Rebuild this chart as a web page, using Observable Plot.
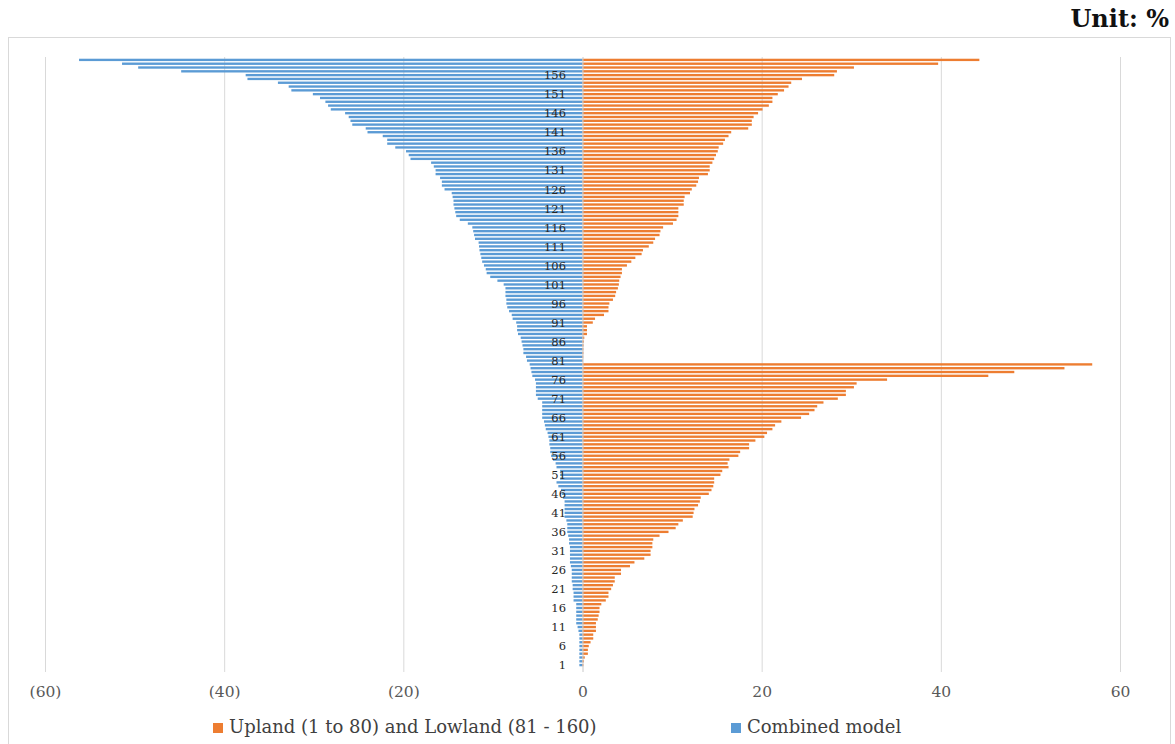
<!DOCTYPE html>
<html>
<head>
<meta charset="utf-8">
<script src="https://cdn.jsdelivr.net/npm/d3@7"></script>
<script src="https://cdn.jsdelivr.net/npm/@observablehq/plot@0.6"></script>
<style>
  html, body { margin: 0; padding: 0; background: #fff; }
  body { position: relative; width: 1175px; height: 744px; overflow: hidden; font-family: "DejaVu Serif", serif; }
  #frame { position: absolute; left: 8px; top: 37px; width: 1163px; height: 720px; border: 1px solid #d9d9d9; box-sizing: border-box; }
  #unit { position: absolute; right: 6px; top: 4px; font-weight: bold; font-size: 24px; color: #111; }
  #chart { position: absolute; left: 0; top: 0; }
  #legend { position: absolute; top: 716px; left: 0; width: 1175px; height: 26px; font-size: 18px; color: #404040; }
  .item { position: absolute; top: 0; white-space: nowrap; }
  .sw { display: inline-block; width: 10px; height: 10px; margin-right: 6px; vertical-align: 0px; }
</style>
</head>
<body>
<div id="frame"></div>
<div id="unit">Unit: %</div>
<div id="chart"></div>
<div id="legend">
  <div class="item" style="left:213px"><span class="sw" style="background:#ED7D31"></span>Upland (1 to 80) and Lowland (81 - 160)</div>
  <div class="item" style="left:731px"><span class="sw" style="background:#5B9BD5"></span>Combined model</div>
</div>
<script>
// Category ids (bottom to top): 1..160
const categories = d3.range(1, 161);

// Upland (1 to 80) and Lowland (81 - 160), unit %
const separateModel = [
  0.1, 0.15, 0.25, 0.6, 0.6, 0.7, 0.9, 1.2, 1.2, 1.5,
  1.5, 1.5, 1.7, 1.8, 1.9, 1.9, 2.1, 2.6, 2.9, 2.9,
  3.2, 3.4, 3.6, 3.6, 4.3, 4.3, 5.3, 5.8, 6.9, 7.6,
  7.6, 7.8, 7.8, 7.9, 8.6, 9.6, 10.4, 10.7, 11.2, 12.3,
  12.4, 12.5, 12.9, 13.1, 13.2, 14.1, 14.4, 14.6, 14.7, 14.7,
  15.4, 15.6, 16.3, 16.2, 16.4, 17.4, 17.6, 18.6, 18.6, 19.3,
  20.3, 20.6, 21.2, 21.5, 22.2, 24.4, 25.3, 25.9, 26.2, 26.9,
  28.5, 29.4, 29.4, 30.3, 30.6, 34.0, 45.3, 48.2, 53.8, 56.9,
  0.05, 0.08, 0.1, 0.1, 0.12, 0.15, 0.2, 0.5, 0.5, 0.5,
  1.15, 1.4, 2.4, 2.9, 2.9, 3.0, 3.4, 3.65, 3.75, 3.95,
  4.06, 4.1, 4.25, 4.4, 4.4, 4.96, 5.45, 5.9, 6.6, 6.75,
  7.4, 7.9, 8.1, 8.6, 8.7, 9.0, 10.1, 10.5, 10.7, 10.7,
  10.7, 11.3, 11.3, 11.4, 12.0, 12.2, 12.7, 12.9, 13.0, 14.0,
  14.2, 14.2, 14.5, 14.7, 14.9, 15.1, 15.2, 15.7, 15.9, 16.3,
  16.6, 18.5, 18.9, 18.9, 19.1, 19.6, 20.1, 20.8, 21.2, 21.2,
  21.8, 22.5, 23.0, 23.3, 24.5, 28.1, 28.4, 30.3, 39.7, 44.3
];

// Combined model, unit %
const combinedModel = [
  -0.35, -0.35, -0.35, -0.35, -0.35, -0.35, -0.35, -0.35, -0.35, -0.45,
  -0.55, -0.7, -0.7, -0.7, -0.7, -0.7, -0.7, -1.0, -1.0, -1.0,
  -1.1, -1.1, -1.2, -1.2, -1.2, -1.2, -1.3, -1.4, -1.4, -1.4,
  -1.4, -1.4, -1.5, -1.5, -1.6, -1.7, -1.7, -1.7, -1.8, -2.0,
  -2.0, -2.0, -2.0, -2.0, -2.2, -2.3, -2.4, -2.7, -2.9, -2.5,
  -2.5, -2.5, -2.9, -3.0, -3.3, -3.5, -3.6, -3.6, -3.7, -3.7,
  -3.8, -3.9, -4.1, -4.2, -4.3, -4.5, -4.5, -4.5, -4.5, -4.5,
  -5.0, -5.2, -5.2, -5.2, -5.2, -5.3, -5.6, -5.7, -5.8, -5.9,
  -6.2, -6.3, -6.6, -6.6, -6.7, -6.8, -6.9, -7.2, -7.3, -7.3,
  -7.4, -7.8, -7.9, -8.2, -8.4, -8.5, -8.5, -8.6, -8.6, -8.6,
  -8.8, -9.5, -10.3, -10.7, -10.8, -11.0, -11.2, -11.3, -11.4, -11.5,
  -11.55, -11.6, -12.0, -12.1, -12.2, -12.3, -12.8, -13.7, -14.1, -14.2,
  -14.3, -14.4, -14.4, -14.5, -14.6, -15.4, -15.7, -15.7, -15.9, -16.4,
  -16.4, -16.6, -16.9, -19.2, -19.4, -19.7, -20.9, -21.8, -21.8, -22.3,
  -24.0, -24.2, -25.7, -25.9, -26.1, -26.5, -28.1, -28.4, -28.7, -29.3,
  -30.1, -32.5, -32.8, -34.0, -37.4, -37.6, -44.8, -49.6, -51.4, -56.2
];

const xTicks = [-60, -40, -20, 0, 20, 40, 60];
const yTickLabels = [1, 6, 11, 16, 21, 26, 31, 36, 41, 46, 51, 56, 61, 66, 71, 76, 81, 86, 91, 96, 101, 106, 111, 116, 121, 126, 131, 136, 141, 146, 151, 156];

const orangeRows = categories.map((c, i) => ({cat: c, value: separateModel[i]}));
const blueRows = categories.map((c, i) => ({cat: c, value: combinedModel[i]}));

const chart = Plot.plot({
  width: 1175,
  height: 710,
  marginLeft: 45,
  marginRight: 55,
  marginTop: 58,
  marginBottom: 43,
  style: {fontFamily: "DejaVu Serif", background: "transparent", overflow: "visible"},
  x: {domain: [-60, 60]},
  y: {type: "band", domain: categories.slice().reverse(), paddingInner: 0.38, paddingOuter: 0.19, axis: null},
  marks: [
    Plot.ruleX(xTicks.filter(d => d !== 0), {stroke: "#d9d9d9", strokeWidth: 1, insetTop: -1, insetBottom: -5}),
    Plot.barX(blueRows, {x: "value", y: "cat", fill: "#5B9BD5"}),
    Plot.barX(orangeRows, {x: "value", y: "cat", fill: "#ED7D31"}),
    Plot.ruleX([0], {stroke: "#c8c8c8", strokeWidth: 1, insetTop: -1, insetBottom: -5}),
    Plot.axisX({ticks: xTicks, tickFormat: d => d < 0 ? `(${-d})` : `${d}`, tickSize: 0, tickPadding: 18, fontSize: 15.5, fill: "#595959", label: null}),
    Plot.text(yTickLabels, {x: 0, y: d => d, dx: -17, textAnchor: "end", fontSize: 11.5, fill: "#262626"})
  ]
});
document.getElementById("chart").appendChild(chart);
</script>
</body>
</html>
